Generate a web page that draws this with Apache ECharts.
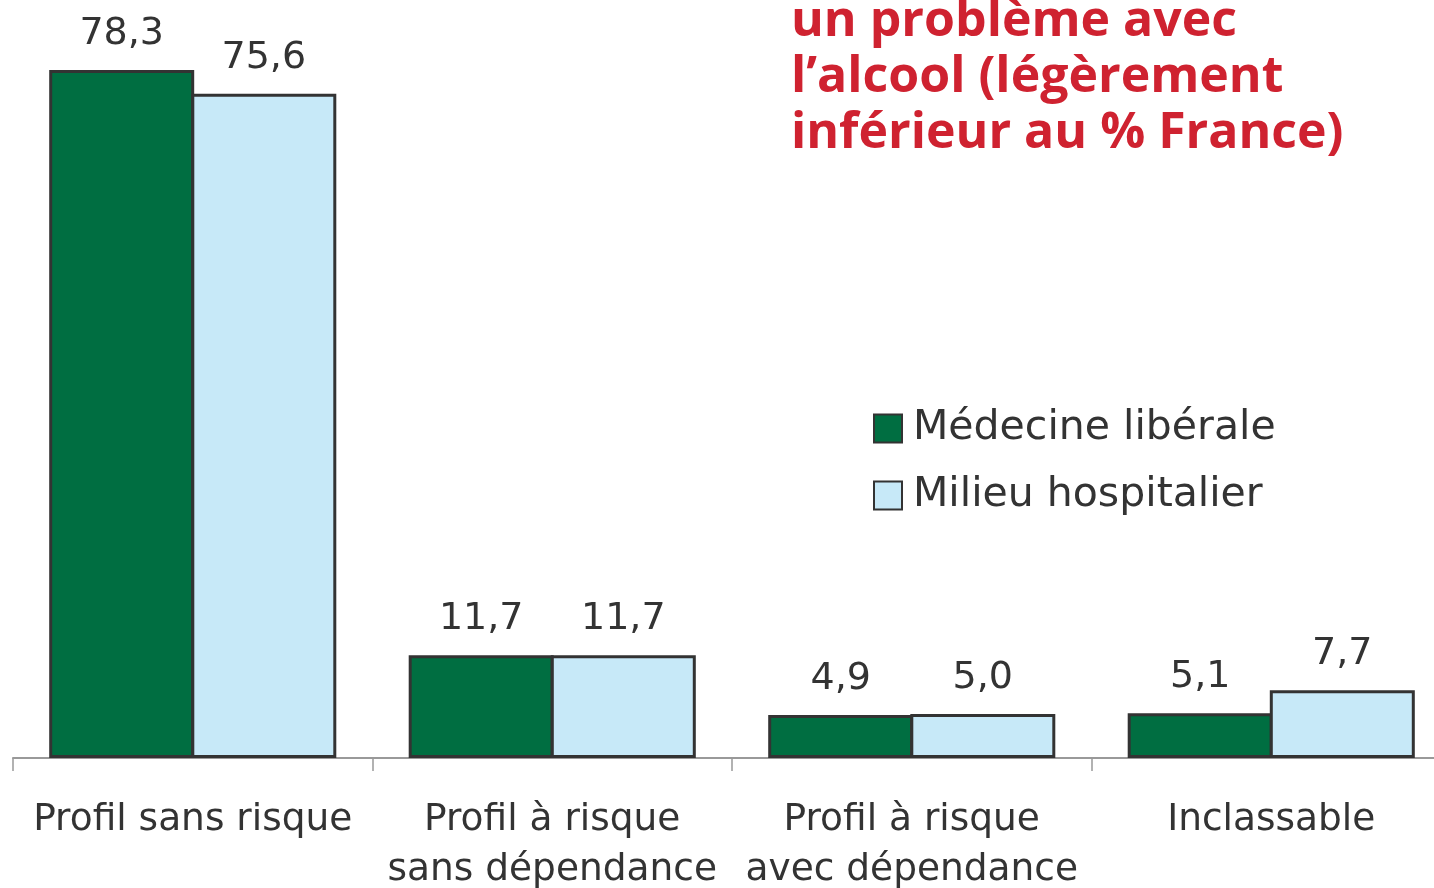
<!DOCTYPE html>
<html>
<head>
<meta charset="utf-8">
<script src="https://cdn.jsdelivr.net/npm/echarts@6/dist/echarts.min.js"></script>
<style>
  html, body { margin: 0; padding: 0; background: #fff; }
  #chart { width: 1434px; height: 888px; }
</style>
</head>
<body>
<div id="chart"></div>
<script>
// chart data
const categories = ['Profil sans risque', 'Profil à risque\nsans dépendance', 'Profil à risque\navec dépendance', 'Inclassable'];
const seriesNames = ['Médecine libérale', 'Milieu hospitalier'];
const liberale = [78.3, 11.7, 4.9, 5.1];
const hospitalier = [75.6, 11.7, 5.0, 7.7];
const titleLines = ['un problème avec', 'l’alcool (légèrement', 'inférieur au % France)'];

const font = '"DejaVu Sans", Verdana, sans-serif';
const textColor = '#333333';

const chart = echarts.init(document.getElementById('chart'));

function barSeries(name, data, color) {
    return {
        name: name,
        type: 'bar',
        data: data,
        barWidth: 145,
        barGap: '-2%',
        itemStyle: { color: color, borderColor: '#333333', borderWidth: 3 },
        label: {
            show: true,
            position: 'top',
            distance: 17,
            fontFamily: font,
            fontSize: 38,
            color: textColor,
            formatter: p => p.value.toFixed(1).replace('.', ',')
        }
    };
}

chart.setOption({
    animation: false,
    backgroundColor: '#ffffff',
    title: {
        text: titleLines.join('\n'),
        left: 791,
        top: -6,
        padding: 0,
        textStyle: {
            fontFamily: '"Open Sans", sans-serif',
            fontWeight: 'bold',
            fontSize: 50,
            lineHeight: 56,
            color: '#cf2230'
        }
    },
    legend: {
        orient: 'vertical',
        left: 873,
        top: 408,
        padding: 0,
        itemWidth: 28,
        itemHeight: 28,
        itemGap: 26,
        icon: 'rect',
        textStyle: {
            fontFamily: font,
            fontSize: 41,
            lineHeight: 40,
            color: textColor,
            padding: [0, 0, 0, 6]
        }
    },
    grid: { left: 13, top: 0, width: 1438, bottom: 130, outerBoundsMode: 'none', containLabel: false },
    xAxis: {
        type: 'category',
        data: categories,
        axisLine: { lineStyle: { color: '#999999', width: 2 } },
        axisTick: { show: true, length: 13, lineStyle: { color: '#999999', width: 1.5 } },
        axisLabel: {
            interval: 0,
            margin: 37,
            fontFamily: font,
            fontSize: 37.5,
            lineHeight: 50,
            color: textColor
        }
    },
    yAxis: {
        type: 'value',
        min: 0,
        max: 86.27,
        show: false,
        splitLine: { show: false }
    },
    series: [
        barSeries(seriesNames[0], liberale, '#006e41'),
        barSeries(seriesNames[1], hospitalier, '#c7e9f8')
    ]
});
</script>
</body>
</html>
